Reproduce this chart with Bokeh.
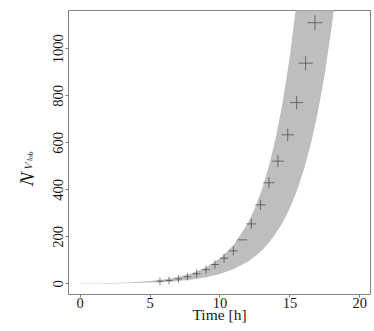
import math
from bokeh.plotting import figure
from bokeh.models import Range1d, Label, ColumnDataSource, FixedTicker
from bokeh.embed import file_html
from bokeh.resources import INLINE

# band (uncertainty envelope)
band_t = [0, 1, 2, 3, 4, 5, 6, 7, 8, 9, 10, 11, 12, 12.5, 13, 13.5, 14, 14.5,
          15, 15.5, 16, 16.5, 17, 17.5, 18, 18.5, 19]
band_upper = [1.32, 2.05, 3.18, 4.94, 7.67, 11.9, 18.5, 28.7, 44.6, 69.3, 107.6,
              167, 259, 323, 402, 501, 625, 779, 970, 1209, 1506, 1877, 2339,
              2915, 3632, 4525, 5600]
band_lower = [0.71, 1.07, 1.61, 2.41, 3.63, 5.46, 8.21, 12.3, 18.6, 27.9, 42.0,
              63.1, 94.9, 116, 143, 175, 215, 263, 323, 396, 486, 596, 731,
              896, 1099, 1348, 1653]

# observed points
obs_t = [5.71, 6.36, 7.03, 7.67, 8.33, 9.00, 9.64, 10.29, 10.96, 11.60, 12.24,
         12.89, 13.50, 14.14, 14.84, 15.48, 16.12, 16.79]
obs_n = [11, 14, 21, 30, 43, 60, 82, 109, 140, 187, 255, 336, 430, 522, 634,
         771, 939, 1111]

x_ticks = [0, 5, 10, 15, 20]
y_ticks = [0, 200, 400, 600, 800, 1000]

FONT = "Liberation Serif"
TXT = "#1a1a1a"
FRAME = "#808080"

p = figure(width=374, height=331, output_backend="svg", toolbar_location=None,
           x_range=Range1d(-0.83, 20.76), y_range=Range1d(-45.5, 1163),
           min_border_left=68, min_border_right=4, min_border_top=10,
           min_border_bottom=37)

p.xgrid.visible = False
p.ygrid.visible = False
p.outline_line_color = FRAME
p.outline_line_width = 1
p.background_fill_color = "white"
p.border_fill_color = "white"

p.varea(x=band_t, y1=band_lower, y2=band_upper, fill_color="#bebebe",
        fill_alpha=1.0)

nmax = max(obs_n)
sizes = [7 + 8 * (v / nmax) ** 0.7 for v in obs_n]
markers = ["cross"] * len(obs_t)
markers[9] = "dash"
src = ColumnDataSource(dict(t=obs_t, n=obs_n, s=sizes, m=markers))
p.scatter(x="t", y="n", size="s", marker="m", source=src, line_color="#444444",
          line_width=0.7, fill_color=None)

for ax in (p.xaxis[0], p.yaxis[0]):
    ax.axis_line_color = None
    ax.major_tick_line_color = FRAME
    ax.major_tick_in = 0
    ax.major_tick_out = 3
    ax.minor_tick_line_color = None
    ax.major_label_text_font = FONT
    ax.major_label_text_font_size = "14.5px"
    ax.major_label_text_color = TXT

p.xaxis.ticker = FixedTicker(ticks=x_ticks)
p.yaxis.ticker = FixedTicker(ticks=y_ticks)
p.xaxis.major_label_standoff = 0
p.yaxis.major_label_standoff = 2
p.yaxis.major_label_orientation = "vertical"

p.xaxis.axis_label = "Time [h]"
p.xaxis.axis_label_text_font = FONT
p.xaxis.axis_label_text_font_style = "normal"
p.xaxis.axis_label_text_font_size = "15.5px"
p.xaxis.axis_label_text_color = TXT
p.xaxis.axis_label_standoff = -5

ang = 1.45
p.add_layout(Label(x=-3.88, y=418, text="N",
                   angle=ang, text_font=FONT, text_font_style="italic",
                   text_font_size="20px", text_color=TXT,
                   text_align="left", text_baseline="alphabetic"), "left")
p.add_layout(Label(x=-3.74, y=486, text="V",
                   angle=ang, text_font=FONT, text_font_style="italic",
                   text_font_size="11px", text_color=TXT,
                   text_align="left", text_baseline="alphabetic"), "left")
p.add_layout(Label(x=-3.62, y=523, text="lob",
                   angle=ang, text_font=FONT, text_font_size="7.5px",
                   text_color=TXT, text_align="left", text_baseline="alphabetic"), "left")

open("out.html", "w").write(file_html(p, INLINE))
